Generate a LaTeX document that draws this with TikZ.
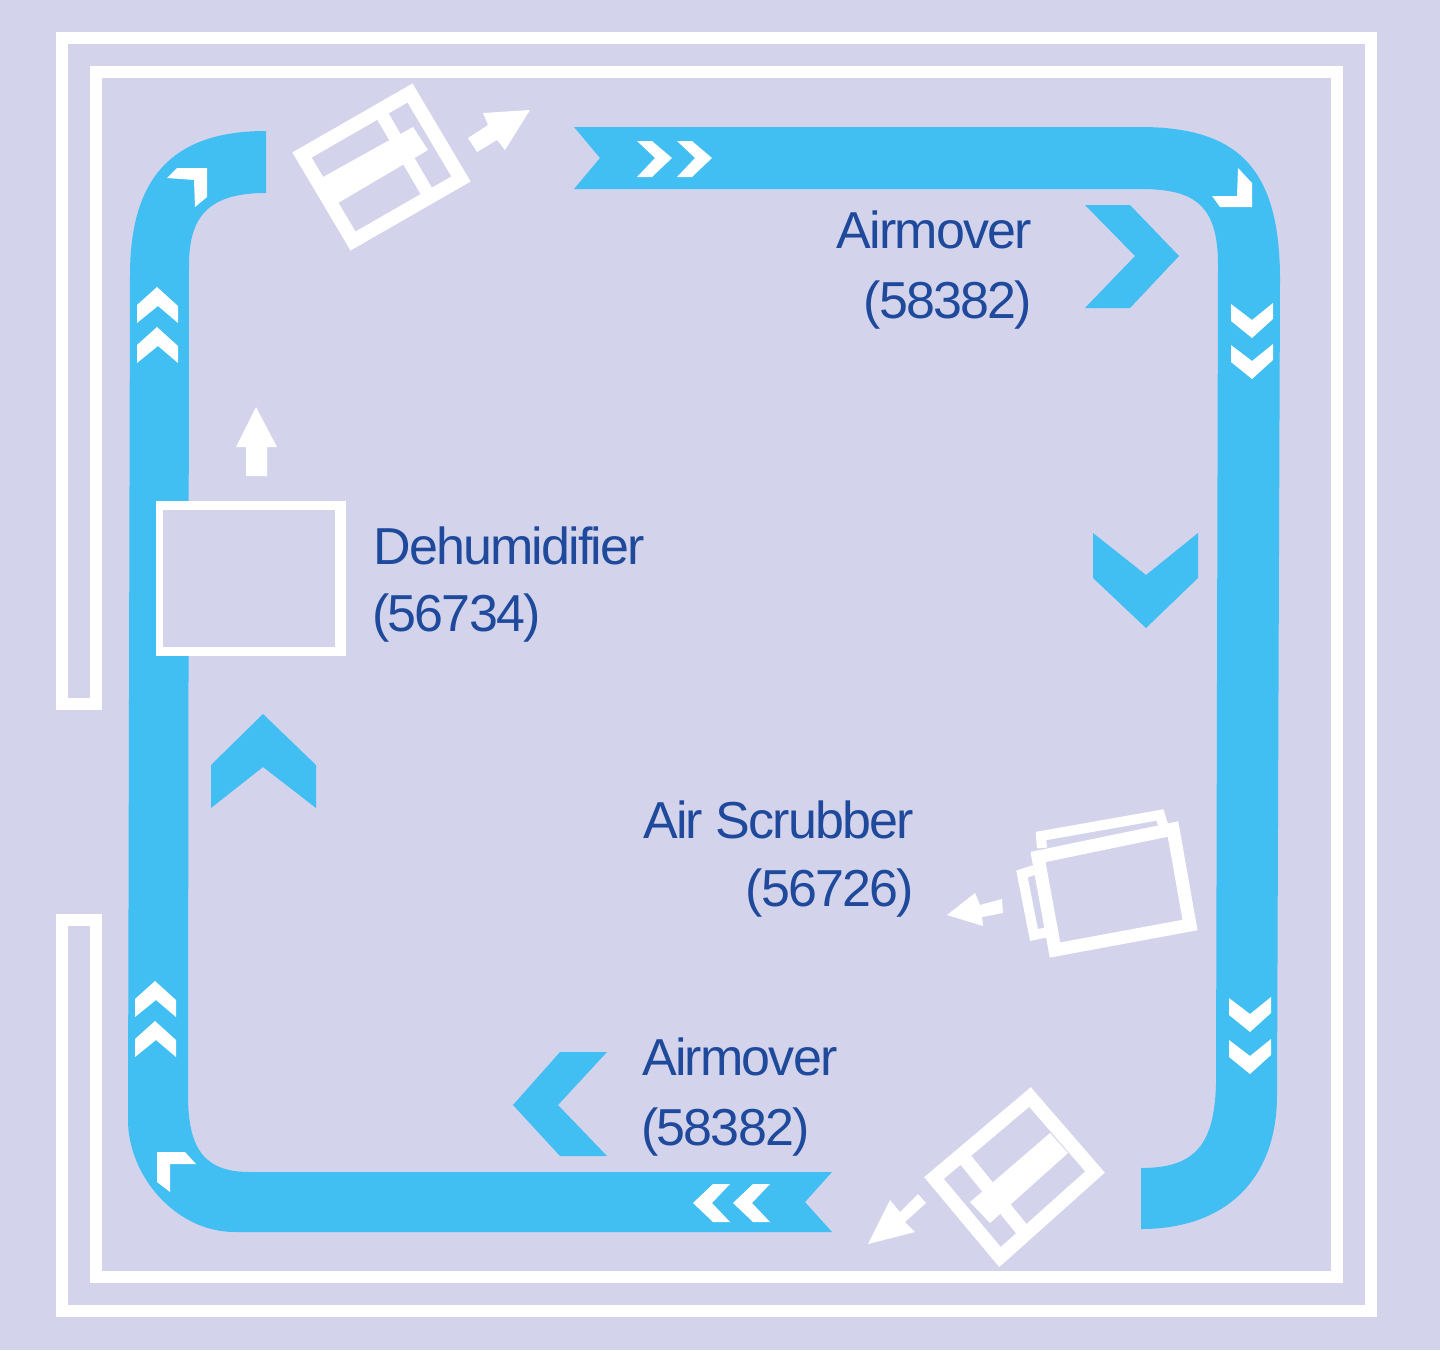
\documentclass[tikz,border=0pt]{standalone}
\usepackage{fontspec}
\setmainfont{Liberation Sans}[LetterSpace=-3.6]
\definecolor{bgc}{HTML}{D3D3EC}
\definecolor{bandc}{HTML}{41BEF2}
\definecolor{textc}{HTML}{1F4A9C}
\tikzset{
  band/.style={fill=bandc,draw=none},
  wh/.style={fill=white,draw=none},
  wline/.style={draw=white,line join=miter,fill=none},
  lbl/.style={text=textc,font=\fontsize{26}{30}\selectfont,inner sep=0pt},
}
\begin{document}
\begin{tikzpicture}[x=0.5pt,y=-0.5pt]
\useasboundingbox (0,0) rectangle (1440,1350);
\fill[bgc] (0,0) rectangle (1440,1350);
% walls
\draw[wline,line width=6pt] (62,704) -- (62,38) -- (1371,38) -- (1371,1311) -- (62,1311) -- (62,920) -- (96,920) -- (96,1277) -- (1337,1277) -- (1337,72) -- (96,72) -- (96,704) -- cycle;
% blue airflow ribbons
\fill[band] (266,131) .. controls (175,131) and (130,175) .. (130,275) -- (128,1120)
  .. controls (128,1175) and (175,1232) .. (235,1232) -- (832,1232) -- (805,1202) -- (832,1172) -- (250,1172)
  .. controls (205,1172) and (188,1150) .. (188,1095) -- (189,265)
  .. controls (189,215) and (210,193) .. (266,193) -- cycle;
\fill[band] (574,127) -- (600,158) -- (574,189) -- (1140,189)
  .. controls (1195,189) and (1218,205) .. (1218,265) -- (1216,1085)
  .. controls (1214,1145) and (1195,1168) .. (1141,1168) -- (1141,1229)
  .. controls (1225,1229) and (1277,1180) .. (1277,1095) -- (1280,280)
  .. controls (1280,170) and (1240,127) .. (1140,127) -- cycle;
% large blue chevrons
\fill[band] (1085,205) -- (1130,205) -- (1179,256) -- (1130,308) -- (1085,308) -- (1135,256) -- cycle;
\fill[band] (1093,533) -- (1146,575) -- (1198,533) -- (1198,578) -- (1146,628) -- (1093,578) -- cycle;
\fill[band] (211,808) -- (211,765) -- (263,714) -- (316,765) -- (316,808) -- (263,767) -- cycle;
\fill[band] (513,1105) -- (560,1052) -- (607,1052) -- (558,1105) -- (607,1156) -- (560,1156) -- cycle;
% small white chevrons: top and bottom runs
\foreach \d in {0,40}{
  \fill[wh] ({637+\d},141) -- ({652+\d},141) -- ({672+\d},158) -- ({652+\d},177) -- ({637+\d},177) -- ({655+\d},158) -- cycle;
  \fill[wh] ({770-\d},1184) -- ({752-\d},1203) -- ({770-\d},1222) -- ({753-\d},1222) -- ({733-\d},1203) -- ({753-\d},1184) -- cycle;
}
% right run
\foreach \x/\y in {1231/303,1231/344,1229/997,1229/1039}{
  \begin{scope}[shift={(\x,\y)}]
  \fill[wh] (0,1) -- (21,17) -- (42,0) -- (42,16) -- (21,35) -- (0,18) -- cycle;
  \end{scope}
}
% left run
\foreach \x/\y in {137/287,137/327,135/981,135/1021}{
  \begin{scope}[shift={(\x,\y)}]
  \fill[wh] (0,36) -- (21,19) -- (41,36) -- (41,19) -- (20,0) -- (0,18) -- cycle;
  \end{scope}
}
% corner chevrons
\fill[wh] (167,178) -- (177,168) -- (207,168) -- (207,197) -- (195,207) -- (194,180) -- cycle;
\fill[wh] (1238,168) -- (1252,183) -- (1252,207) -- (1220,207) -- (1212,196) -- (1237,196) -- cycle;
\fill[wh] (157,1152) -- (185,1152) -- (196,1164) -- (170,1164) -- (170,1192) -- (157,1182) -- cycle;
% dehumidifier
\fill[wh] (156,501) rectangle (346,656);
\fill[bgc] (163,510) rectangle (335,647);
\fill[wh] (256,407) -- (277,447) -- (267,447) -- (267,476) -- (246,476) -- (246,447) -- (236,447) -- cycle;
% top fan
\draw[wline,line width=7pt] (302,155) -- (410,93) -- (461,179) -- (353,241) -- cycle;
\fill[wh] (323,177) -- (413,127) -- (428,150) -- (338,203) -- cycle;
\draw[wline,line width=6.5pt] (378,108) -- (428,194);
\fill[wh] (530,110) -- (483,113) -- (488,125) -- (468,138) -- (477,152) -- (497,140) -- (505,150) -- cycle;
% bottom fan
\draw[wline,line width=7pt] (934,1178) -- (1030,1097) -- (1095,1172) -- (1000,1257) -- cycle;
\fill[wh] (970,1202) -- (1050,1133) -- (1068,1153) -- (990,1223) -- cycle;
\draw[wline,line width=7pt] (960,1153) -- (1024,1232);
\fill[wh] (868,1244) -- (890,1200) -- (900,1212) -- (918,1194) -- (926,1203) -- (905,1222) -- (915,1232) -- cycle;
% air scrubber
\draw[wline,line width=6.5pt] (1038,857) -- (1173,829) -- (1190,925) -- (1055,950) -- cycle;
\draw[wline,line width=5pt] (1042,848) -- (1041,836) -- (1160,815) -- (1164,828);
\draw[wline,line width=5pt] (1034,870) -- (1022,874) -- (1034,935) -- (1048,932);
\fill[wh] (947,915) -- (975,893) -- (980,905) -- (1002,899) -- (1003,913) -- (982,917) -- (983,926) -- cycle;
% labels
\node[lbl,anchor=base east] (am1a) at (1032,248) {Airmover};
\node[lbl,anchor=base east] (am1b) at (1032,318) {(58382)};
\node[lbl,anchor=base west] (deha) at (373,564) {Dehumidifier};
\node[lbl,anchor=base west] (dehb) at (372,631) {(56734)};
\node[lbl,anchor=base east] (scra) at (914,838) {Air Scrubber};
\node[lbl,anchor=base east] (scrb) at (914,906) {(56726)};
\node[lbl,anchor=base west] (am2a) at (642,1075) {Airmover};
\node[lbl,anchor=base west] (am2b) at (641,1145) {(58382)};
\end{tikzpicture}
\end{document}
